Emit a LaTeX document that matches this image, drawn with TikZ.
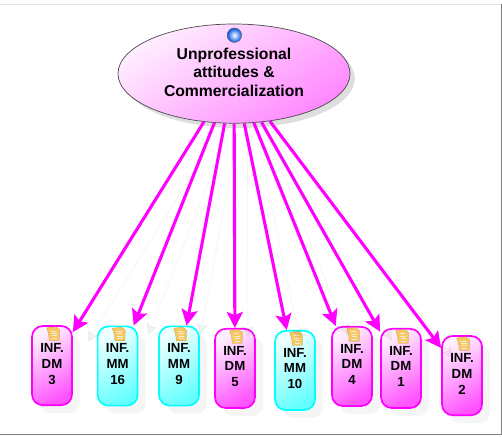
\documentclass[tikz,border=0pt]{standalone}
\usepackage{fontspec}
\setmainfont{Liberation Sans}
\usepackage{xcolor}
\usepackage{tikz}
\usetikzlibrary{shapes,shadows,arrows.meta}
\definecolor{pinkline}{HTML}{FF00FF}
\definecolor{pinkdark}{HTML}{FF55FF}
\definecolor{pinklight}{HTML}{FFEEFF}
\definecolor{pinkmid}{HTML}{FF88FF}
\definecolor{cyanline}{HTML}{00FFFF}
\definecolor{cyandark}{HTML}{66FFFF}
\definecolor{cyanlight}{HTML}{EEFFFF}
\definecolor{notefill}{HTML}{F6C963}
\definecolor{noteline}{HTML}{C9963A}
\definecolor{ballrim}{HTML}{0055E8}
\tikzset{ell/.style={ellipse,draw=black!70,line width=0.5pt,minimum width=5.8cm,minimum height=2.48cm,inner sep=0cm,align=center,
    top color=pinklight,bottom color=pinkmid,shading angle=35,text depth=0.07cm,
    drop shadow={shadow xshift=0.12cm,shadow yshift=-0.12cm,fill=black,opacity=0.13},
    font=\fontsize{11.2}{13.1}\selectfont\bfseries}}
\tikzset{rec/.style={rectangle,rounded corners=0.27cm,draw,line width=1.2pt,minimum height=1.98cm,minimum width=1cm,inner sep=0cm,align=center,
    text depth=0.1cm,
    drop shadow={shadow xshift=0.2cm,shadow yshift=-0.2cm,fill=black,opacity=0.04},
    font=\fontsize{9.4}{11.3}\selectfont\bfseries}}
\tikzset{dm/.style={rec,draw=pinkline,top color=pinklight,bottom color=pinkdark,shading angle=30}}
\tikzset{mm/.style={rec,draw=cyanline,top color=cyanlight,bottom color=cyandark,shading angle=30}}
\tikzset{bullet/.style={circle,draw=black!60,line width=0.4pt,minimum size=0.36cm,inner sep=0cm,inner color=white,outer color=ballrim}}
\tikzset{link/.style={draw=pinkline,line width=2.2pt,-{Stealth[length=0.4cm,width=0.4cm,inset=0.08cm]},
    preaction={draw=black,opacity=0.05,transform canvas={xshift=0.33cm,yshift=-0.3cm}}}}
\tikzset{note/.pic={
    \fill[notefill,draw=noteline,line width=0.2pt] (-0.13,-0.07) -- (0.09,-0.04) -- (0.19,-0.12) -- (0.18,-0.38) -- (-0.07,-0.38) -- (-0.08,-0.24) -- cycle;
    \draw[white!80!noteline,line width=0.3pt] (-0.03,-0.14) -- (0.11,-0.14) (-0.02,-0.2) -- (0.12,-0.2) (-0.01,-0.26) -- (0.13,-0.26) (-0.01,-0.32) -- (0.13,-0.32);
}}

\begin{document}
\begin{tikzpicture}[>=stealth]
        \useasboundingbox (0,0) rectangle (12.55,10.9);
        \fill[white] (0,0) rectangle (12.55,10.9);
        \draw[black!10] (0,10.8) -- (12.53,10.8);
        \draw[black!50,line width=0.8pt] (0,0.03) -- (12.53,0.03) -- (12.53,10.8);

        \node[ell] (attitudes) at (5.85,9.06) {Unprofessional\\attitudes \&\\Commercialization};
        \node[bullet] (ball) at (5.86,10.02) {};

        \node[dm] (dm3) at (1.3,1.76) {INF.\\DM\\3};
        \node[mm] (mm16) at (2.94,1.75) {INF.\\MM\\16};
        \node[mm] (mm9) at (4.475,1.75) {INF.\\MM\\9};
        \node[dm] (dm5) at (5.875,1.69) {INF.\\DM\\5};
        \node[mm] (mm10) at (7.375,1.64) {INF.\\MM\\10};
        \node[dm] (dm4) at (8.8,1.74) {INF.\\DM\\4};
        \node[dm] (dm1) at (10.025,1.69) {INF.\\DM\\1};
        \node[dm] (dm2) at (11.55,1.51) {INF.\\DM\\2};

        \pic at (dm3.north) {note};
        \pic at (mm16.north) {note};
        \pic at (mm9.north) {note};
        \pic at (dm5.north) {note};
        \pic at (mm10.north) {note};
        \pic at (dm4.north) {note};
        \pic at (dm1.north) {note};
        \pic at (dm2.north) {note};

        \draw [link] (attitudes) to (dm3);
        \draw [link] (attitudes) to (mm16);
        \draw [link] (attitudes) to (mm9);
        \draw [link] (attitudes) to (dm5);
        \draw [link] (attitudes) to (mm10);
        \draw [link] (attitudes) to (dm4);
        \draw [link] (attitudes) to (dm1);
        \draw [link] (attitudes) to (dm2);
    \end{tikzpicture}
\end{document}
